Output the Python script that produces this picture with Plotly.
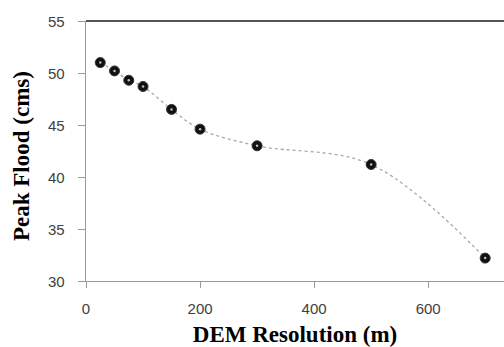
import plotly.graph_objects as go

# DEM cell size (m) and simulated peak discharge (cms)
resolution_m = [25, 50, 75, 100, 150, 200, 300, 500, 700]
peak_flood_cms = [51.0, 50.2, 49.3, 48.7, 46.5, 44.6, 43.0, 41.2, 32.2]

x_ticks = [0, 200, 400, 600]
y_ticks = [30, 35, 40, 45, 50, 55]

fig = go.Figure()

# smooth dotted trend through the points
fig.add_trace(go.Scatter(
    x=resolution_m, y=peak_flood_cms, mode="lines",
    line=dict(shape="spline", smoothing=1.0, color="#a8a8a8", width=1.3, dash="dot"),
    hoverinfo="skip", showlegend=False,
))
# markers
fig.add_trace(go.Scatter(
    x=resolution_m, y=peak_flood_cms, mode="markers",
    marker=dict(symbol="circle", size=10, color="#111111",
                line=dict(color="#333333", width=1)),
    showlegend=False,
))
# small light centre in each marker
fig.add_trace(go.Scatter(
    x=resolution_m, y=peak_flood_cms, mode="markers",
    marker=dict(symbol="circle", size=2.5, color="#bbbbbb"),
    hoverinfo="skip", showlegend=False,
))

tick_font = dict(family="Liberation Sans, Arial, sans-serif", size=15, color="#404040")
title_font = dict(family="Liberation Serif, Times New Roman, serif", size=23, color="#000000")

fig.update_xaxes(
    range=[0, 733], tickvals=x_ticks, ticks="outside", ticklen=6, tickcolor="#9a9a9a",
    showline=True, linecolor="#9a9a9a", linewidth=1, showgrid=False, zeroline=False,
    tickfont=tick_font, ticklabelstandoff=8,
    title=dict(text="<b>DEM Resolution (m)</b>", font=title_font, standoff=10),
)
fig.update_yaxes(
    range=[30, 55], tickvals=y_ticks, ticks="outside", ticklen=7,
    tickcolor="#9a9a9a", showticklabels=False,
    showline=True, linecolor="#9a9a9a", linewidth=1, showgrid=False, zeroline=False,
)

# y tick labels set a little away from the tick marks
for v in y_ticks:
    fig.add_annotation(
        text=str(v), font=tick_font, xref="paper", yref="y",
        x=0, y=v, xanchor="right", yanchor="middle", xshift=-19, showarrow=False,
    )

# y-axis title placed as a rotated annotation
fig.add_annotation(
    text="<b>Peak Flood (cms)</b>", font=title_font, textangle=-90,
    xref="paper", yref="paper", x=(21 - 86) / 418, y=1 - (156 - 21) / 260,
    xanchor="center", yanchor="middle", showarrow=False,
)

# darker frame line along the top of the plot area
fig.add_shape(type="line", xref="paper", yref="paper", x0=0, x1=1, y0=1, y1=1,
              line=dict(color="#555555", width=2))

fig.update_layout(
    width=504, height=347,
    margin=dict(l=86, r=0, t=21, b=66),
    paper_bgcolor="white", plot_bgcolor="white",
)

fig.write_html("out.html")
